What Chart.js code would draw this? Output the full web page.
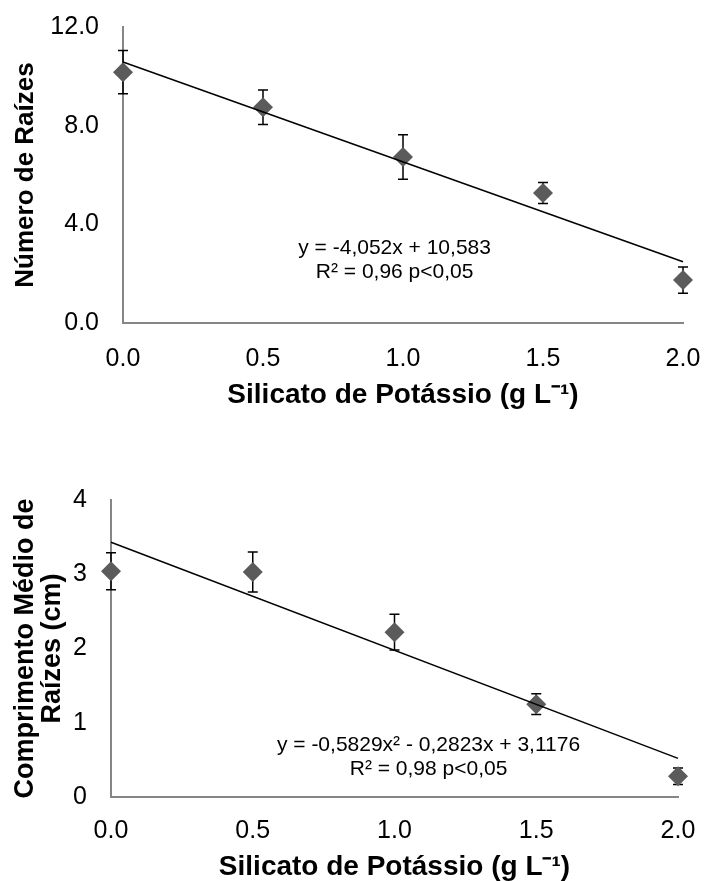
<!DOCTYPE html>
<html>
<head>
<meta charset="utf-8">
<script src="https://cdn.jsdelivr.net/npm/chart.js@4"></script>
<style>
  body { margin: 0; background: #fff; overflow: hidden; }
  canvas { display: block; }
</style>
</head>
<body>
<canvas id="chartNumero" width="705" height="440"></canvas>
<canvas id="chartComprimento" width="705" height="441"></canvas>
<script>
// doses de silicato de potássio (g L-1)
const doses = [0.0, 0.5, 1.0, 1.5, 2.0];

// número de raízes
const numeroRaizes = [10.17, 8.75, 6.73, 5.27, 1.74];
const numeroRaizesErro = [0.88, 0.70, 0.90, 0.43, 0.53];
const tendenciaX = [0, 2];
const tendenciaNumero = [10.58, 2.48];

// comprimento médio de raízes (cm)
const comprimentoRaizes = [3.04, 3.03, 2.22, 1.25, 0.28];
const comprimentoRaizesErro = [0.25, 0.27, 0.24, 0.14, 0.11];
const tendenciaComprimento = [3.43, 0.52];

const xTicks = [0, 0.5, 1, 1.5, 2];
const yTicksNumero = [0, 4, 8, 12];
const yTicksComprimento = [0, 1, 2, 3, 4];

const eqNumero = ['y = -4,052x + 10,583', 'R² = 0,96 p<0,05'];
const eqComprimento = ['y = -0,5829x² - 0,2823x + 3,1176', 'R² = 0,98 p<0,05'];

const fonte = "'Liberation Sans', Arial, sans-serif";
const corEixo = '#868686';
const corPonto = '#5b5b5b';

// barras de erro, desenhadas antes dos pontos
const barrasErro = {
  id: 'barrasErro',
  beforeDatasetsDraw(chart, args, opts) {
    const ctx = chart.ctx;
    const x = chart.scales.x;
    const y = chart.scales.y;
    ctx.save();
    ctx.strokeStyle = '#000';
    ctx.lineWidth = 1.5;
    for (let i = 0; i < opts.x.length; i++) {
      const px = x.getPixelForValue(opts.x[i]);
      const top = y.getPixelForValue(opts.y[i] + opts.erro[i]);
      const bot = y.getPixelForValue(opts.y[i] - opts.erro[i]);
      ctx.beginPath();
      ctx.moveTo(px, top); ctx.lineTo(px, bot);
      ctx.moveTo(px - 5, top); ctx.lineTo(px + 5, top);
      ctx.moveTo(px - 5, bot); ctx.lineTo(px + 5, bot);
      ctx.stroke();
    }
    ctx.restore();
  }
};

// equação da regressão
const equacao = {
  id: 'equacao',
  afterDraw(chart, args, opts) {
    const ctx = chart.ctx;
    const px = chart.scales.x.getPixelForValue(opts.x);
    const py = chart.scales.y.getPixelForValue(opts.y);
    ctx.save();
    ctx.font = '21px ' + fonte;
    ctx.fillStyle = '#000';
    ctx.textAlign = 'center';
    ctx.textBaseline = 'middle';
    opts.linhas.forEach((linha, i) => {
      ctx.fillText(linha, px, py + i * 24);
    });
    ctx.restore();
  }
};

function pares(xs, ys) {
  return xs.map((v, i) => ({x: v, y: ys[i]}));
}

function montaGrafico(id, cfg) {
  const ctx = document.getElementById(id).getContext('2d');
  return new Chart(ctx, {
    type: 'scatter',
    data: {
      datasets: [
        {
          type: 'line',
          data: pares(tendenciaX, cfg.tendencia),
          borderColor: '#000',
          borderWidth: 1.5,
          pointRadius: 0,
          fill: false,
          clip: false
        },
        {
          data: pares(doses, cfg.valores),
          pointStyle: 'rectRot',
          pointRadius: 10,
          backgroundColor: corPonto,
          borderColor: corPonto,
          borderWidth: 0,
          clip: false
        }
      ]
    },
    options: {
      responsive: false,
      animation: false,
      layout: {
        padding: cfg.padding
      },
      plugins: {
        legend: { display: false },
        tooltip: { enabled: false },
        barrasErro: { x: doses, y: cfg.valores, erro: cfg.erro },
        equacao: cfg.eq
      },
      scales: {
        x: {
          type: 'linear',
          min: 0,
          max: 2,
          afterBuildTicks: (s) => { s.ticks = xTicks.map(v => ({value: v})); },
          afterFit: (s) => { s.height = cfg.alturaX; s.paddingLeft = 0; s.paddingRight = 0; },
          grid: { display: false, drawTicks: false },
          border: { color: corEixo, width: 2 },
          ticks: {
            padding: cfg.padTickX,
            color: '#000',
            font: { family: fonte, size: 25 },
            callback: (v) => v.toFixed(1)
          },
          title: {
            display: true,
            text: 'Silicato de Potássio (g L⁻¹)',
            color: '#000',
            font: { family: fonte, size: 28, weight: 'bold', lineHeight: 1 },
            padding: { top: 0, bottom: cfg.padTituloX }
          }
        },
        y: {
          min: 0,
          max: cfg.yMax,
          afterBuildTicks: (s) => { s.ticks = cfg.yTicks.map(v => ({value: v})); },
          afterFit: (s) => { s.width = cfg.larguraY; s.paddingTop = 0; s.paddingBottom = 0; },
          grid: { display: false, drawTicks: false },
          border: { color: corEixo, width: 2 },
          ticks: {
            padding: 24,
            color: '#000',
            font: { family: fonte, size: 25 },
            callback: (v) => cfg.decimais ? v.toFixed(1) : String(v)
          },
          title: {
            display: true,
            text: cfg.tituloY,
            color: '#000',
            font: { family: fonte, size: cfg.fonteTituloY, weight: 'bold', lineHeight: 1.0 },
            padding: { top: cfg.padTituloY, bottom: 0 }
          }
        }
      }
    },
    plugins: [barrasErro, equacao]
  });
}

montaGrafico('chartNumero', {
  valores: numeroRaizes,
  erro: numeroRaizesErro,
  tendencia: tendenciaNumero,
  yTicks: yTicksNumero,
  yMax: 12,
  decimais: true,
  tituloY: 'Número de Raízes',
  padding: { top: 27, right: 22, left: 0, bottom: 0 },
  larguraY: 123,
  alturaX: 117,
  padTickX: 21,
  padTituloX: 31,
  fonteTituloY: 26,
  padTituloY: 13,
  eq: { linhas: eqNumero, x: 0.97, y: 3.04 }
});

montaGrafico('chartComprimento', {
  valores: comprimentoRaizes,
  erro: comprimentoRaizesErro,
  tendencia: tendenciaComprimento,
  yTicks: yTicksComprimento,
  yMax: 4,
  decimais: false,
  tituloY: ['Comprimento Médio de', 'Raízes (cm)'],
  padding: { top: 60, right: 27, left: 0, bottom: 0 },
  larguraY: 111,
  alturaX: 84,
  padTickX: 19,
  padTituloX: 0,
  fonteTituloY: 27,
  padTituloY: 12,
  eq: { linhas: eqComprimento, x: 1.12, y: 0.70 }
});
</script>
</body>
</html>
